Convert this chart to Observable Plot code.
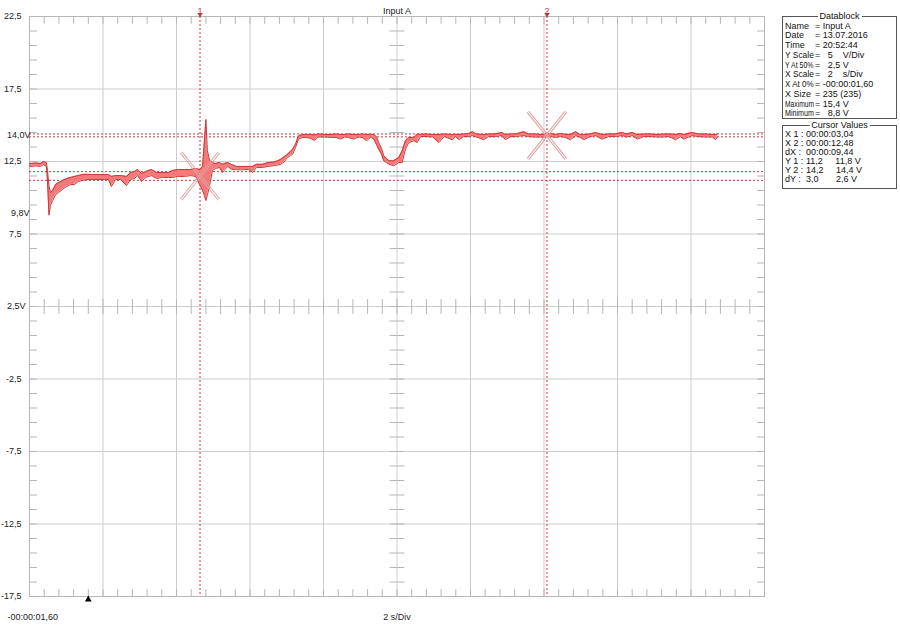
<!DOCTYPE html>
<html><head><meta charset="utf-8">
<script src="https://cdn.jsdelivr.net/npm/d3@7"></script>
<script src="https://cdn.jsdelivr.net/npm/@observablehq/plot@0.6"></script>
<style>
body{margin:0;background:#fff;}
#wrap{position:relative;width:900px;height:626px;font-family:"Liberation Sans",Arial,sans-serif;color:#111;}
#wrap svg{position:absolute;left:0;top:0;}
.box{position:absolute;border:1px solid #555;box-sizing:border-box;}
.lg{position:absolute;background:#fff;padding:0 2px;font-size:9px;line-height:10px;transform:translate(-50%,-50%);white-space:nowrap;}
.ln{position:absolute;font-size:9px;line-height:10px;white-space:pre;transform:translateY(-50%);transform-origin:0 50%;}
</style></head><body><div id="wrap"></div>
<script>
// ---- trace data (min/max envelope) ----
const time = [-1.60,-1.41,-1.30,-1.22,-1.14,-1.11,-1.07,-1.03,-0.97,-0.89,-0.81,-0.70,-0.59,-0.48,-0.38,-0.27,-0.16,-0.05,0.11,0.28,0.44,0.55,0.63,0.74,0.88,1.04,1.15,1.26,1.34,1.45,1.56,1.72,1.86,2.02,2.18,2.29,2.45,2.62,2.78,2.92,3.03,3.11,3.16,3.20,3.24,3.30,3.38,3.46,3.57,3.65,3.79,3.90,4.03,4.20,4.36,4.47,4.58,4.74,4.90,5.07,5.23,5.34,5.42,5.50,5.56,5.64,5.72,5.83,5.94,6.05,6.16,6.26,6.43,6.59,6.75,6.86,6.97,7.08,7.22,7.35,7.46,7.57,7.68,7.76,7.84,7.90,7.98,8.04,8.11,8.18,8.31,8.45,8.54,8.63,8.72,8.86,8.95,9.04,9.20,9.37,9.54,9.69,9.90,9.99,10.08,10.21,10.35,10.45,10.56,10.76,10.89,11.05,11.26,11.35,11.49,11.62,11.85,11.98,12.14,12.31,12.47,12.58,12.71,12.85,12.98,13.12,13.26,13.39,13.48,13.66,13.80,13.98,14.16,14.32,14.53,14.65,14.80,14.94,15.11,15.30,15.49,15.65,15.80,15.98,16.11,16.20,16.43,16.60,16.79,16.98,17.07,17.12];
const vMax = [12.36,12.40,12.36,12.50,12.43,11.88,10.84,10.36,10.50,10.91,11.05,11.19,11.33,11.40,11.47,11.53,11.60,11.62,11.60,11.60,11.60,11.60,11.47,11.53,11.53,11.47,11.74,11.81,11.95,11.67,11.81,11.95,11.74,11.74,11.74,11.88,11.95,11.95,11.95,12.02,11.95,12.16,13.95,15.40,13.26,12.57,12.43,12.36,12.43,12.31,12.43,12.29,12.16,12.16,12.16,12.16,12.31,12.31,12.43,12.47,12.64,12.84,13.00,13.19,13.35,13.69,14.27,14.36,14.36,14.36,14.33,14.40,14.36,14.36,14.40,14.36,14.36,14.40,14.36,14.36,14.40,14.36,14.38,14.36,14.22,13.81,13.40,12.89,12.71,12.55,12.55,12.78,13.24,13.93,14.16,14.16,14.38,14.38,14.40,14.36,14.36,14.40,14.36,14.38,14.36,14.40,14.43,14.55,14.40,14.36,14.40,14.40,14.50,14.36,14.40,14.40,14.55,14.40,14.40,14.36,14.40,14.43,14.36,14.43,14.38,14.36,14.55,14.36,14.36,14.40,14.50,14.36,14.40,14.40,14.50,14.40,14.50,14.36,14.40,14.40,14.36,14.40,14.40,14.36,14.43,14.36,14.50,14.40,14.40,14.36,14.36,14.40];
const vMin = [12.16,12.19,12.16,12.29,12.16,11.19,8.80,9.47,9.81,10.22,10.36,10.57,10.78,10.91,10.91,11.12,11.19,11.26,11.26,11.26,11.26,11.26,10.78,11.26,11.26,10.84,11.26,11.33,11.53,11.12,11.40,11.53,11.33,11.40,11.40,11.40,11.47,11.47,11.53,11.47,10.91,10.50,10.16,9.81,10.16,10.84,11.88,12.02,12.09,11.74,12.16,11.95,11.93,11.93,11.95,11.74,12.09,12.09,12.16,12.22,12.29,12.50,12.78,12.91,13.00,13.47,14.04,14.16,14.16,14.09,13.95,14.19,14.19,14.16,14.16,14.04,14.19,14.16,14.04,14.19,14.16,13.93,14.16,14.09,13.67,13.35,12.98,12.55,12.43,12.31,12.20,12.43,12.43,13.35,13.81,13.93,13.81,14.22,14.22,14.19,13.81,14.22,14.00,14.22,14.00,14.22,14.22,14.29,14.19,14.00,14.22,14.22,14.29,14.00,14.22,14.22,14.29,14.22,14.19,14.19,14.19,14.22,14.16,14.22,14.16,14.00,14.29,14.16,14.00,14.22,14.29,14.04,14.22,14.22,14.29,14.19,14.29,14.04,14.22,14.22,14.19,14.19,14.22,14.00,14.22,14.04,14.29,14.22,14.19,14.19,14.00,14.22];

// ---- axes / annotations ----
const xGridValues = [-1.6,0.4,2.4,4.4,6.4,8.4,10.4,12.4,14.4,16.4,18.4];
const yGridValues = [22.5,17.5,12.5,7.5,2.5,-2.5,-7.5,-12.5,-17.5];
const yTickValues = [22.5,17.5,12.5,7.5,-2.5,-7.5,-12.5,-17.5];
const yTickLabels = ["22,5","17,5","12,5","7,5","-2,5","-7,5","-12,5","-17,5"];
const levelValues = [14.33, 8.95, 2.5];
const levelLabels = ["14,0V","9,8V","2,5V"];
const cursorTimes = [3.04, 12.48];
const cursorNames = ["1","2"];
const cursorLevels = [14.4, 14.2, 11.8, 11.2];
const crossTimes = [3.04, 12.48];
const crossLevels = [11.5, 14.3];
const triggerTime = [0];
const titleText = ["Input A"];
const xStartLabel = ["-00:00:01,60"];
const xScaleLabel = ["2 s/Div"];

const dataLabels = ["Name","Date","Time","Y Scale","Y At 50%","X Scale","X At 0%","X Size","Maximum","Minimum"];
const dataValues = ["= Input A","= 13.07.2016","= 20:52:44","=   5    V/Div","=   2,5 V","=   2    s/Div","= -00:00:01,60","= 235 (235)","= 15,4 V","=   8,8 V"];
const cursorLabels = ["X 1 :","X 2 :","dX :","Y 1 :","Y 2 :","dY :"];
const cursorValues = ["00:00:03,04","00:00:12,48","00:00:09,44","11,2     11,8 V","14,2     14,4 V","3,0       2,6 V"];

const rows = time.map((t, i) => ({t, lo: vMin[i], hi: vMax[i]}));
const crosses = crossTimes.map((t, i) => ({t, v: crossLevels[i]}));
const xMinor = d3.range(1, 50).map(k => -1.6 + k * 0.4);
const yMinor = d3.range(1, 40).map(k => -17.5 + k);
const lineShape = {draw(ctx, l) { ctx.moveTo(0, 0); ctx.lineTo(0, -l); }};
const tickStroke = "#b5b5b5";
const red = "#c23b3b";
const crossColor = "#e0a2a2";

function tickMarks(data, opts) {
  return Plot.vector(data, {shape: lineShape, stroke: tickStroke, strokeWidth: 1, ...opts});
}
function cross(rot, ox, oy) {
  return Plot.vector(crosses, {x: "t", y: "v", length: 60, rotate: rot, anchor: "middle", shape: lineShape, stroke: crossColor, strokeWidth: 1, dx: ox, dy: oy});
}

const levelDx = [1, 0, -4];
const chart = Plot.plot({
  width: 900, height: 626,
  marginTop: 16, marginRight: 136, marginBottom: 30, marginLeft: 29,
  x: {domain: [-1.6, 18.4], axis: null},
  y: {domain: [-17.5, 22.5], axis: null},
  style: {fontFamily: "Liberation Sans, Arial, sans-serif", fontSize: "9px", background: "transparent", color: "#222"},
  marks: [
    Plot.ruleX(xGridValues, {stroke: "#cdcdcd"}),
    Plot.ruleY(yGridValues, {stroke: "#cdcdcd"}),
    tickMarks(xMinor, {x: d => d, frameAnchor: "top", length: 7, rotate: 180, anchor: "start"}),
    tickMarks(xMinor, {x: d => d, frameAnchor: "bottom", length: 7, rotate: 0, anchor: "start"}),
    tickMarks(xMinor, {x: d => d, y: () => 2.5, length: 14, rotate: 0, anchor: "middle"}),
    tickMarks(yMinor, {y: d => d, frameAnchor: "left", length: 7, rotate: 90, anchor: "start"}),
    tickMarks(yMinor, {y: d => d, frameAnchor: "right", length: 7, rotate: 270, anchor: "start"}),
    tickMarks(yMinor, {y: d => d, x: () => 8.4, length: 14, rotate: 90, anchor: "middle"}),
    Plot.frame({stroke: "#b5b5b5"}),
    Plot.ruleX(cursorTimes, {stroke: red, strokeDasharray: "2,2"}),
    Plot.ruleY(cursorLevels, {stroke: red, strokeDasharray: "2,2"}),
    Plot.areaY(rows, {x: "t", y1: "lo", y2: "hi", fill: "#f47a7a"}),
    Plot.lineY(rows, {x: "t", y: "hi", stroke: "#cc3535", strokeWidth: 1}),
    Plot.lineY(rows, {x: "t", y: "lo", stroke: "#cc3535", strokeWidth: 1}),
    cross(38.8, 0.8, 0.6), cross(38.8, -0.8, -0.6),
    cross(-38.8, 0.8, -0.6), cross(-38.8, -0.8, 0.6),
    Plot.text(yTickValues, {y: d => d, text: (d, i) => yTickLabels[i], frameAnchor: "left", dx: -8, textAnchor: "end", fill: "#222"}),
    ...levelValues.map((v, i) => Plot.text([v], {y: d => d, text: () => levelLabels[i], frameAnchor: "left", dx: levelDx[i], textAnchor: "end", fill: "#222"})),
    Plot.text(titleText, {text: d => d, frameAnchor: "top", dy: -9, fill: "#222"}),
    Plot.text(xStartLabel, {text: d => d, frameAnchor: "bottom-left", dx: -22, dy: 23, textAnchor: "start", fill: "#222"}),
    Plot.text(xScaleLabel, {text: d => d, frameAnchor: "bottom", dy: 23, fill: "#222"}),
    Plot.text(cursorTimes, {x: d => d, text: (d, i) => cursorNames[i], frameAnchor: "top", dy: -9, fill: red}),
    Plot.dot(cursorTimes, {x: d => d, frameAnchor: "top", dy: -2, symbol: "triangle", r: 2, rotate: 180, fill: red}),
    Plot.dot(triggerTime, {x: d => d, frameAnchor: "bottom", dy: 3, symbol: "triangle", r: 2.5, fill: "#000"})
  ]
});
const wrap = document.getElementById("wrap");
wrap.appendChild(chart);

// ---- info panels ----
const canvas = document.createElement("canvas").getContext("2d");
canvas.font = "9px 'Liberation Sans', Arial, sans-serif";
function panel(top, height, title, labels, values, y0, step, labelW, valueX) {
  const box = document.createElement("div");
  box.className = "box";
  Object.assign(box.style, {left: "782px", top: top + "px", width: "115px", height: height + "px"});
  wrap.appendChild(box);
  const lg = document.createElement("div");
  lg.className = "lg"; lg.textContent = title;
  Object.assign(lg.style, {left: "839.5px", top: top + "px"});
  wrap.appendChild(lg);
  labels.forEach((lab, i) => {
    const y = y0 + i * step;
    const a = document.createElement("div");
    a.className = "ln"; a.textContent = lab;
    const w = canvas.measureText(lab).width;
    const s = w > labelW ? labelW / w : 1;
    Object.assign(a.style, {left: "785px", top: y + "px", transform: `translateY(-50%) scaleX(${s})`});
    wrap.appendChild(a);
    const b = document.createElement("div");
    b.className = "ln"; b.textContent = values[i];
    Object.assign(b.style, {left: valueX + "px", top: y + "px"});
    wrap.appendChild(b);
  });
}
panel(16, 103, "Datablock", dataLabels, dataValues, 25.5, 9.75, 29, 815);
panel(125, 64, "Cursor Values", cursorLabels, cursorValues, 134, 9, 19, 806);
</script>
</body></html>
